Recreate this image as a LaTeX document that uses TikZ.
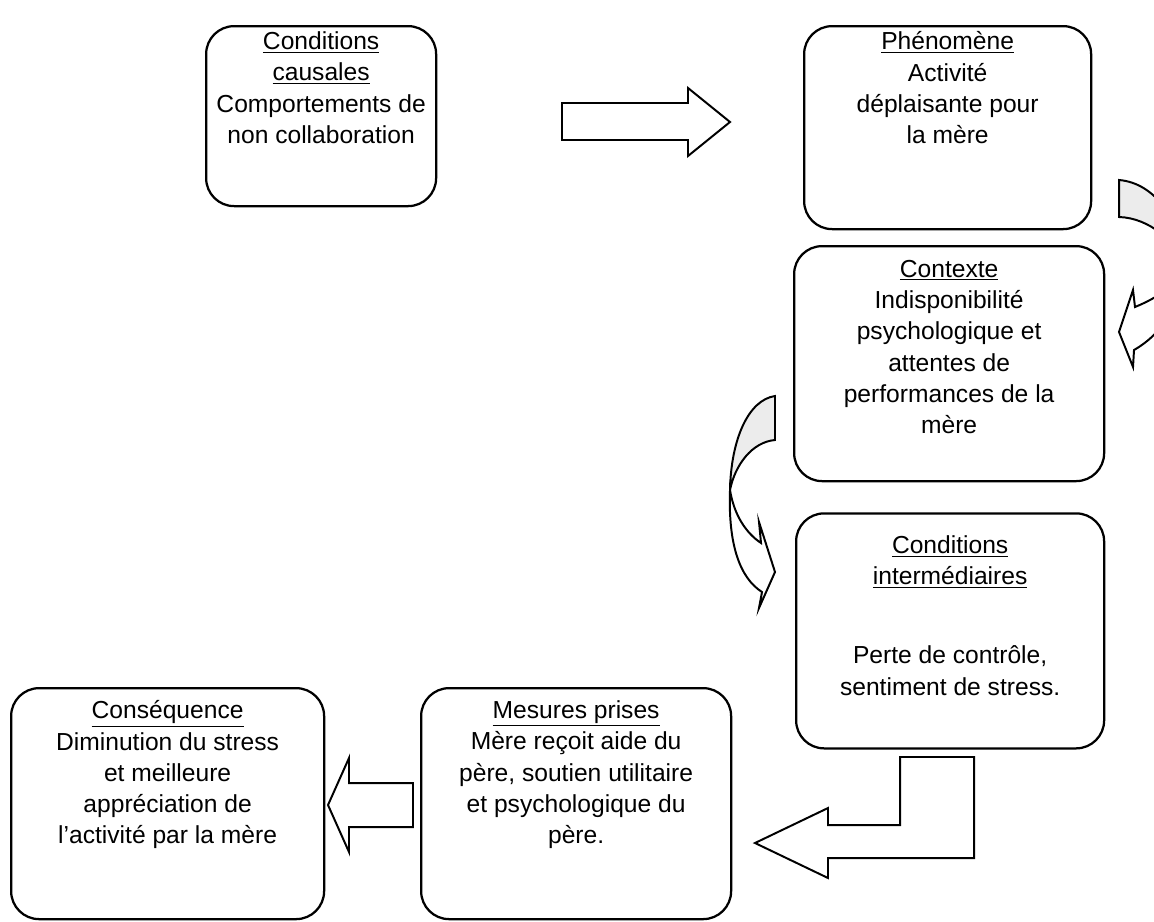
\documentclass[tikz,border=0pt]{standalone}
\usepackage{fontspec}
\setmainfont{Liberation Sans}
\usepackage{tikz}
\usetikzlibrary{positioning}

\newlength\px
\setlength\px{0.025cm}
\newcommand{\texte}{\fontsize{17.5}{22.2}\selectfont}
% bloc[espace haut]{largeur}{hauteur}{texte}
\newcommand{\bloc}[4][0pt]{\parbox[t][\dimexpr #3\px-8pt\relax][t]{\dimexpr #2\px-4pt\relax}{\centering\vspace*{#1}#4}}

\begin{document}
\begin{tikzpicture}[
        x=0.025cm, y=-0.025cm,
        etape/.style={
            draw=black,
            line width=1.6pt,
            rounded corners=0.7cm,
            anchor=north west,
            inner xsep=2pt,
            inner ysep=4pt,
            align=center,
            font=\texte
        },
        fleche/.style={draw=black, line width=1.4pt, fill=white, line join=miter},
        revers/.style={draw=black, line width=1.4pt, fill=gray!15}
    ]
    \useasboundingbox (0,0) rectangle (1154,921);
    \clip (0,0) rectangle (1154,921);

    \node (cause) [etape] at (205,25) {\bloc{230}{180}{\underline{Conditions}\\ \underline{causales}\\ Comportements de\\ non collaboration}};
    \node (pheno) [etape] at (803,25) {\bloc{287}{203}{\underline{Phénomène}\\ Activité\\ déplaisante pour\\ la mère}};
    \node (ctx) [etape] at (793,245) {\bloc[6pt]{310}{235}{\underline{Contexte}\\ Indisponibilité\\ psychologique et\\ attentes de\\ performances de la\\ mère}};
    \node (inter) [etape, below=30\px of ctx.south west, anchor=north west, xshift=2\px] {\bloc[12pt]{308}{235}{\underline{Conditions}\\ \underline{intermédiaires}\\[34pt] Perte de contrôle,\\ sentiment de stress.}};
    \node (mesures) [etape] at (420,687) {\bloc[5pt]{310}{231}{\underline{Mesures prises}\\ Mère reçoit aide du\\ père, soutien utilitaire\\ et psychologique du\\ père.}};
    \node (conseq) [etape] at (10,687) {\bloc[5pt]{313}{231}{\underline{Conséquence}\\ Diminution du stress\\ et meilleure\\ appréciation de\\ l'activité par la mère}};

    % fleche droite
    \draw [fleche] (562,103) -- (688,103) -- (688,88) -- (730,122) -- (688,156) -- (688,140) -- (562,140) -- cycle;

    % fleche courbe (pheno -> ctx)
    \draw [revers] (1119,180) .. controls (1155,183) and (1180,220) .. (1187,265)
        .. controls (1175,242) and (1150,218) .. (1119,217) -- cycle;
    \draw [fleche] (1187,265) .. controls (1184,302) and (1162,334) .. (1134,350)
        -- (1133,367) -- (1119,332) -- (1133,290) -- (1135,307)
        .. controls (1157,298) and (1177,285) .. (1187,265) -- cycle;

    % fleche courbe (ctx -> inter)
    \draw [revers] (775,396) .. controls (748,400) and (731,440) .. (730,490)
        .. controls (735,465) and (752,442) .. (775,440) -- cycle;
    \draw [fleche] (730,490) .. controls (728,545) and (740,578) .. (762,592)
        -- (759,608) -- (775,572) -- (759,522) -- (761,543)
        .. controls (746,533) and (734,515) .. (730,490) -- cycle;

    % fleche coudee (inter -> mesures)
    \draw [fleche] (900,757) -- (974,757) -- (974,858) -- (828,858) -- (828,878) -- (755,843) -- (828,808) -- (828,825) -- (900,825) -- cycle;

    % fleche gauche (mesures -> conseq)
    \draw [fleche] (413,783) -- (413,827) -- (349,827) -- (349,852) -- (328,805) -- (349,758) -- (349,783) -- cycle;

\end{tikzpicture}
\end{document}
